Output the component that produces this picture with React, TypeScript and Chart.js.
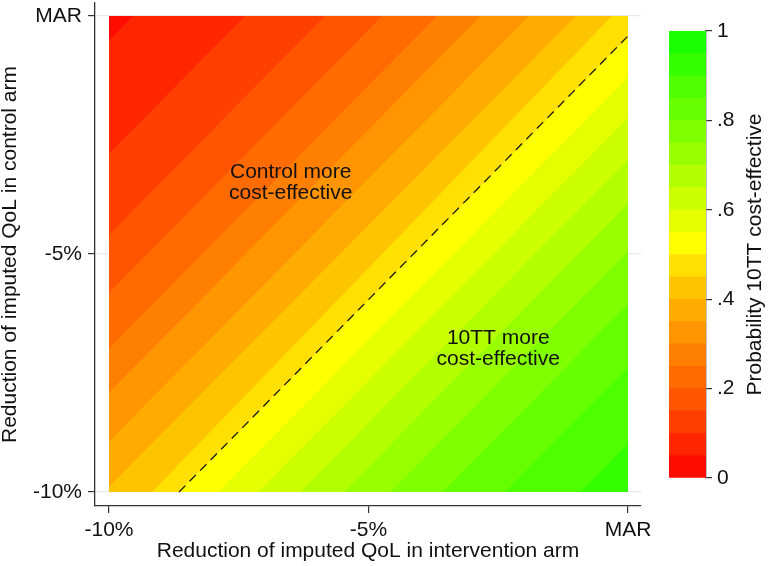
import React, { useEffect, useRef } from 'react';
import { Chart, registerables } from 'chart.js';

Chart.register(...registerables);

// ---- data ----
// contour levels of P(10TT cost-effective) that cross the plotted square
const CONTOUR_LEVELS = [0.05, 0.1, 0.15, 0.2, 0.25, 0.3, 0.35, 0.4, 0.45, 0.5, 0.55, 0.6, 0.65, 0.7, 0.75, 0.8, 0.85, 0.9];
// x (intervention-arm reduction, %) where each contour crosses y = MAR (0)
const CONTOUR_X_AT_MAR = [-9.54, -7.38, -5.84, -4.74, -3.68, -2.84, -1.91, -1.0, -0.31, 0.4, 1.16, 1.93, 2.73, 3.57, 4.47, 5.48, 6.68, 8.14];
// x where each contour crosses y = -10%
const CONTOUR_X_AT_MINUS10 = [-18.59, -16.43, -14.89, -13.79, -12.73, -11.89, -10.96, -10.1, -9.17, -8.65, -7.89, -7.12, -6.32, -5.48, -4.58, -3.57, -2.37, -0.91];

// colour-bar band edges (probability)
const BAND_EDGES = [0, 0.05, 0.1, 0.15, 0.2, 0.25, 0.3, 0.35, 0.4, 0.45, 0.5, 0.55, 0.6, 0.65, 0.7, 0.75, 0.8, 0.85, 0.9, 0.95, 1];
const BAND_COLORS = [
  '#ff0c00', '#ff2600', '#ff3f00', '#ff5500', '#ff6b00', '#ff8000', '#ff9500', '#ffab00', '#ffc400', '#ffe000',
  '#ffff00', '#e6ff00', '#ccff00', '#b3ff00', '#99ff00', '#80ff00', '#66ff00', '#4dff00', '#33ff00', '#1aff00',
];

// dashed 50% line
const DASH_X = [-8.65, 0];
const DASH_Y = [-10, -0.42];

const X_TICKS = [-10, -5, 0];
const X_TICK_LABELS = ['-10%', '-5%', 'MAR'];
const Y_TICKS = [-10, -5, 0];
const Y_TICK_LABELS = ['-10%', '-5%', 'MAR'];
const CB_TICKS = [0, 0.2, 0.4, 0.6, 0.8, 1];
const CB_TICK_LABELS = ['0', '.2', '.4', '.6', '.8', '1'];

const X_TITLE = 'Reduction of imputed QoL in intervention arm';
const Y_TITLE = 'Reduction of imputed QoL in control arm';
const CB_TITLE = 'Probability 10TT cost-effective';

const ANNOT_LINES = [['Control more', 'cost-effective'], ['10TT more', 'cost-effective']];
const ANNOT_X = [-6.5, -2.5];
const ANNOT_Y = [-3.5, -7.0];

// ---- styles ----
const FONT_FAMILY = "'Liberation Sans', Arial, Helvetica, sans-serif";
const FONT_SIZE = 21;
const TEXT_COLOR = '#111';
const AXIS_COLOR = '#333';

const bandIndex = (level: number) => Math.round(level / 0.05);

const contourPlugin = {
  id: 'contourBands',
  beforeDatasetsDraw(chart: any) {
    const { ctx, scales } = chart;
    const x = scales.x;
    const y = scales.y;
    const L = x.getPixelForValue(X_TICKS[0]);
    const R = x.getPixelForValue(X_TICKS[X_TICKS.length - 1]);
    const T = y.getPixelForValue(Y_TICKS[Y_TICKS.length - 1]);
    const B = y.getPixelForValue(Y_TICKS[0]);
    ctx.save();
    ctx.beginPath();
    ctx.rect(L, T, R - L, B - T);
    ctx.clip();
    ctx.fillStyle = BAND_COLORS[0];
    ctx.fillRect(L, T, R - L, B - T);
    CONTOUR_LEVELS.forEach((lv, k) => {
      ctx.beginPath();
      ctx.moveTo(x.getPixelForValue(CONTOUR_X_AT_MAR[k]), y.getPixelForValue(0));
      ctx.lineTo(x.getPixelForValue(30), y.getPixelForValue(0));
      ctx.lineTo(x.getPixelForValue(30), y.getPixelForValue(-10));
      ctx.lineTo(x.getPixelForValue(CONTOUR_X_AT_MINUS10[k]), y.getPixelForValue(-10));
      ctx.closePath();
      ctx.fillStyle = BAND_COLORS[bandIndex(lv)];
      ctx.fill();
    });
    ctx.restore();
  },
  afterDatasetsDraw(chart: any) {
    const { ctx, scales } = chart;
    ctx.save();
    ctx.font = `${FONT_SIZE}px ${FONT_FAMILY}`;
    ctx.fillStyle = TEXT_COLOR;
    ctx.textAlign = 'center';
    ctx.textBaseline = 'middle';
    const lh = 21;
    ANNOT_LINES.forEach((lines, i) => {
      const cx = scales.x.getPixelForValue(ANNOT_X[i]);
      const cy = scales.y.getPixelForValue(ANNOT_Y[i]);
      lines.forEach((t, j) => {
        ctx.fillText(t, cx, cy + (j - (lines.length - 1) / 2) * lh);
      });
    });
    ctx.restore();
  },
};

const cbTitlePlugin = {
  id: 'cbTitle',
  afterDraw(chart: any) {
    const { ctx, chartArea } = chart;
    ctx.save();
    ctx.translate(95, (chartArea.top + chartArea.bottom) / 2);
    ctx.rotate(-Math.PI / 2);
    ctx.font = `${FONT_SIZE}px ${FONT_FAMILY}`;
    ctx.fillStyle = TEXT_COLOR;
    ctx.textAlign = 'center';
    ctx.textBaseline = 'middle';
    ctx.fillText(CB_TITLE, 0, 0);
    ctx.restore();
  },
};

const noPad = (s: any) => {
  s.paddingTop = 0;
  s.paddingBottom = 0;
  s.paddingLeft = 0;
  s.paddingRight = 0;
};

export default function App() {
  const mainRef = useRef<HTMLCanvasElement>(null);
  const cbRef = useRef<HTMLCanvasElement>(null);

  useEffect(() => {
    document.body.style.margin = '0';
    document.body.style.overflow = 'hidden';
    const font = { family: FONT_FAMILY, size: FONT_SIZE };

    const main = new Chart(mainRef.current as HTMLCanvasElement, {
      type: 'scatter',
      data: {
        datasets: [
          {
            data: DASH_X.map((v, i) => ({ x: v, y: DASH_Y[i] })),
            showLine: true,
            borderColor: '#1a1a1a',
            borderWidth: 1.3,
            borderDash: [9, 6],
            pointRadius: 0,
            fill: false,
          },
        ],
      },
      options: {
        responsive: false,
        animation: false,
        layout: { padding: { top: 3, right: 129, left: 0, bottom: 0 } },
        scales: {
          x: {
            type: 'linear',
            min: -10.27,
            max: 0.25,
            afterBuildTicks: (s: any) => {
              s.ticks = X_TICKS.map((v) => ({ value: v }));
            },
            afterFit: (s: any) => {
              s.height = 60;
              noPad(s);
            },
            ticks: {
              callback: (_v: any, i: number) => X_TICK_LABELS[i],
              font,
              color: TEXT_COLOR,
              padding: 5,
              maxRotation: 0,
              autoSkip: false,
            },
            grid: { drawOnChartArea: false, drawTicks: true, tickLength: 7, color: AXIS_COLOR, lineWidth: 1.2 },
            border: { display: true, color: AXIS_COLOR, width: 1.3 },
            title: { display: true, text: X_TITLE, font, color: TEXT_COLOR, padding: { top: 0, bottom: 2 } },
          },
          y: {
            type: 'linear',
            min: -10.294,
            max: 0.273,
            afterBuildTicks: (s: any) => {
              s.ticks = Y_TICKS.map((v) => ({ value: v }));
            },
            afterFit: (s: any) => {
              s.width = 95;
              noPad(s);
            },
            ticks: {
              callback: (_v: any, i: number) => Y_TICK_LABELS[i],
              font,
              color: TEXT_COLOR,
              padding: 6,
              autoSkip: false,
            },
            grid: { drawOnChartArea: true, drawTicks: true, tickLength: 7, color: '#e2e9ef', tickColor: AXIS_COLOR, lineWidth: 1.2 },
            border: { display: true, color: AXIS_COLOR, width: 1.3 },
            title: { display: true, text: Y_TITLE, font, color: TEXT_COLOR, padding: { top: -2, bottom: 0 } },
          },
        },
        plugins: { legend: { display: false }, tooltip: { enabled: false } },
      },
      plugins: [contourPlugin],
    } as any);

    const cb = new Chart(cbRef.current as HTMLCanvasElement, {
      type: 'bar',
      data: {
        labels: [''],
        datasets: BAND_COLORS.map((c, i) => ({
          data: [[BAND_EDGES[i], BAND_EDGES[i + 1]]],
          backgroundColor: c,
          borderWidth: 0,
          barPercentage: 1,
          categoryPercentage: 1,
        })),
      },
      options: {
        responsive: false,
        animation: false,
        layout: { padding: { left: 9, top: 31, bottom: 88, right: 0 } },
        scales: {
          x: { stacked: true, display: false },
          y: {
            stacked: false,
            position: 'right',
            min: 0,
            max: 1,
            afterBuildTicks: (s: any) => {
              s.ticks = CB_TICKS.map((v) => ({ value: v }));
            },
            afterFit: (s: any) => {
              s.width = 64;
              noPad(s);
            },
            ticks: {
              callback: (_v: any, i: number) => CB_TICK_LABELS[i],
              font,
              color: TEXT_COLOR,
              padding: 5,
              autoSkip: false,
            },
            grid: { drawOnChartArea: false, drawTicks: true, tickLength: 6, color: AXIS_COLOR, lineWidth: 1.2 },
            border: { display: true, color: AXIS_COLOR, width: 1.3 },
          },
        },
        plugins: { legend: { display: false }, tooltip: { enabled: false } },
      },
      plugins: [cbTitlePlugin],
    } as any);

    return () => {
      main.destroy();
      cb.destroy();
    };
  }, []);

  return (
    <div style={{ position: 'relative', width: 770, height: 566, background: '#fff' }}>
      <canvas ref={mainRef} width={770} height={566} style={{ position: 'absolute', left: 0, top: 0, width: 770, height: 566 }} />
      <canvas ref={cbRef} width={110} height={566} style={{ position: 'absolute', left: 660, top: 0, width: 110, height: 566 }} />
    </div>
  );
}
